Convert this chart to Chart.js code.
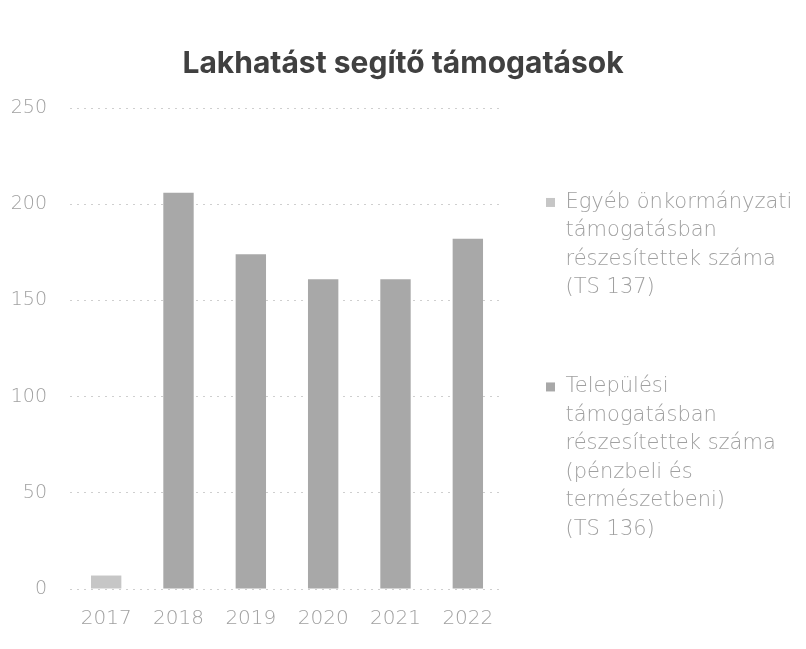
<!DOCTYPE html>
<html>
<head>
<meta charset="utf-8">
<script src="https://cdn.jsdelivr.net/npm/chart.js@4.4.0/dist/chart.umd.min.js"></script>
<style>
  html, body { margin: 0; padding: 0; background: #fff; }
  #wrap { width: 806px; height: 649px; }
</style>
</head>
<body>
<div id="wrap"><canvas id="myChart"></canvas></div>
<script>
var years = ['2017', '2018', '2019', '2020', '2021', '2022'];
var egyeb = [7, null, null, null, null, null];
var telepulesi = [null, 206, 174, 161, 161, 182];
var egyebLabel = ['Egyéb önkormányzati', 'támogatásban', 'részesítettek száma', '(TS 137)', ''];
var telepulesiLabel = ['Települési', 'támogatásban', 'részesítettek száma', '(pénzbeli és', 'természetbeni)', '(TS 136)'];
var yTicks = [0, 50, 100, 150, 200, 250];

var textGray = '#a0a0a0';
var fontName = "'DejaVu Sans', sans-serif";

var data = {
  labels: years,
  datasets: [{
    label: egyebLabel,
    data: egyeb,
    backgroundColor: '#c6c6c6'
  }, {
    label: telepulesiLabel,
    data: telepulesi,
    backgroundColor: '#a8a8a8'
  }]
};

// the layout caps side boxes at a quarter of the width, the legend needs more
var widerLegend = {
  id: 'widerLegend',
  beforeLayout: function (chart) {
    var lg = chart.legend;
    if (lg && !lg.widened) {
      var orig = lg.update;
      lg.update = function (maxWidth, maxHeight, margins) {
        orig.call(this, 302, maxHeight, margins);
        this.width = 302;
      };
      lg.widened = true;
    }
  }
};

function buildChart() {
  var ctx = document.getElementById('myChart');
  new Chart(ctx, {
    type: 'bar',
    data: data,
    plugins: [widerLegend],
    options: {
      responsive: true,
      maintainAspectRatio: false,
      animation: false,
      datasets: {
        bar: { barPercentage: 0.42, categoryPercentage: 1 }
      },
      layout: { padding: { top: 34, left: 0, right: 0, bottom: 8 } },
      plugins: {
        title: {
          display: true,
          text: 'Lakhatást segítő támogatások',
          color: '#404040',
          font: { family: "'Inter', sans-serif", size: 30, weight: 'bold' },
          padding: { top: 12, bottom: 26 }
        },
        legend: {
          position: 'right',
          title: {
            display: true,
            text: ' ',
            font: { size: 12 },
            padding: { top: 50, bottom: 0 }
          },
          labels: {
            color: textGray,
            font: { family: fontName, size: 21, weight: 200, lineHeight: 1.357 },
            boxWidth: 9,
            boxHeight: 9,
            padding: 42,
            generateLabels: function (chart) {
              return chart.data.datasets.map(function (ds, i) {
                return {
                  text: ds.label,
                  fillStyle: ds.backgroundColor,
                  strokeStyle: ds.backgroundColor,
                  lineWidth: 0,
                  fontColor: textGray,
                  datasetIndex: i
                };
              });
            }
          }
        },
        tooltip: { enabled: false }
      },
      scales: {
        x: {
          stacked: true,
          grid: { display: false },
          border: { display: false },
          ticks: {
            color: textGray,
            font: { family: fontName, size: 20, weight: 200 },
            padding: 10
          }
        },
        y: {
          stacked: true,
          min: 0,
          max: 250,
          afterBuildTicks: function (axis) {
            axis.ticks = yTicks.map(function (v) { return { value: v }; });
          },
          afterFit: function (axis) {
            axis.width = 70;
          },
          grid: {
            color: '#cfcfcf',
            drawTicks: false
          },
          border: { display: false, dash: [2, 5] },
          ticks: {
            color: textGray,
            font: { family: fontName, size: 19, weight: 200 },
            padding: 23
          }
        }
      }
    }
  });
}

buildChart();
</script>
</body>
</html>
